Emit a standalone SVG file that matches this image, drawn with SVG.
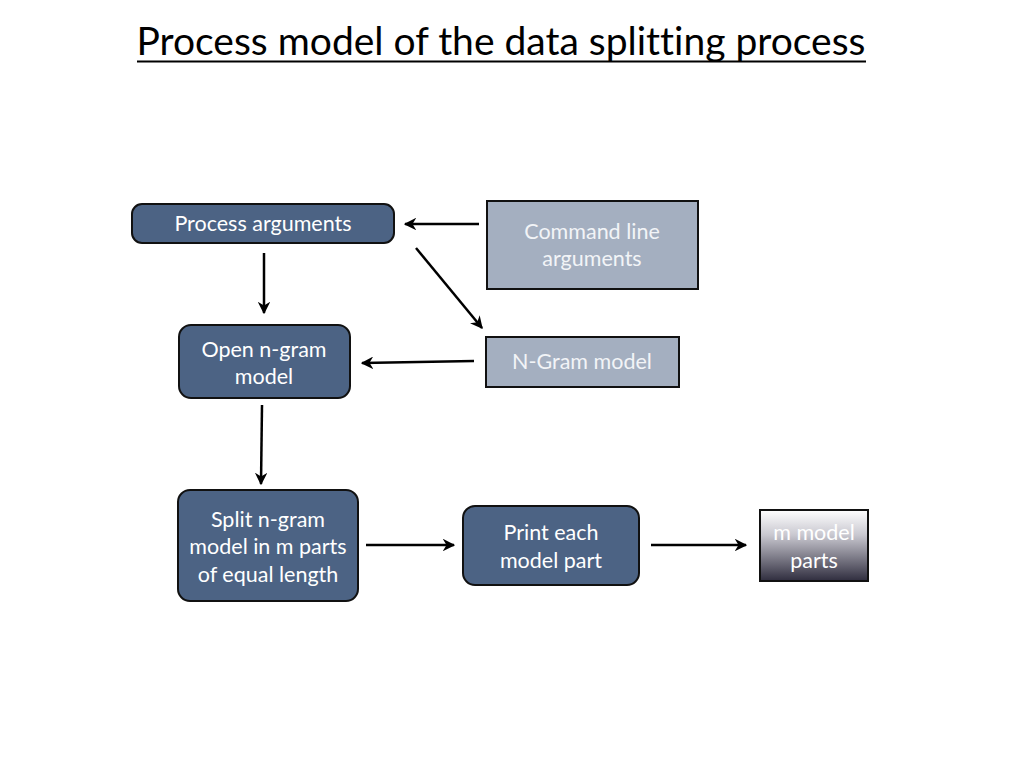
<svg xmlns="http://www.w3.org/2000/svg" width="1024" height="768" viewBox="0 0 1024 768">
<defs>
<style>
.dark{fill:#4c6384;stroke:#111;stroke-width:2}
.light{fill:#a4afc0;stroke:#111;stroke-width:2}
.t{font-family:"Lato","Open Sans","Liberation Sans",sans-serif;font-size:21.5px;fill:#fff;text-anchor:middle;font-variant-ligatures:none}
.tl{font-family:"Lato","Open Sans","Liberation Sans",sans-serif;font-size:21.5px;fill:#f2f4f7;text-anchor:middle;font-variant-ligatures:none}
.c{stroke:#000;stroke-width:2.5;fill:none;marker-end:url(#ah)}
</style>
<marker id="ah" viewBox="0 0 10 10" refX="9" refY="5" markerWidth="5" markerHeight="5" orient="auto" markerUnits="strokeWidth">
<path d="M0,0 L10,5 L0,10 L3,5 Z" fill="#000"/>
</marker>
<linearGradient id="g" x1="0" y1="0" x2="0" y2="1">
<stop offset="0" stop-color="#ffffff"/>
<stop offset="0.35" stop-color="#c9c8d0"/>
<stop offset="1" stop-color="#2f2d3e"/>
</linearGradient>
</defs>
<rect width="1024" height="768" fill="#fff"/>
<text x="501" y="55" font-family="Lato,'Open Sans','Liberation Sans',sans-serif" font-size="39" text-anchor="middle" fill="#000" style="font-variant-ligatures:none">Process model of the data splitting process</text>
<line x1="137" y1="61.5" x2="866" y2="61.5" stroke="#000" stroke-width="2"/>
<g id="connectors">
<line class="c" x1="479" y1="224" x2="405" y2="224"/>
<line class="c" x1="416" y1="248" x2="482" y2="328"/>
<line class="c" x1="264" y1="253" x2="264" y2="313"/>
<line class="c" x1="474" y1="361" x2="362" y2="363"/>
<line class="c" x1="262" y1="405" x2="261" y2="484"/>
<line class="c" x1="366" y1="545" x2="454" y2="545"/>
<line class="c" x1="651" y1="545" x2="746" y2="545"/>
</g>
<g id="process-arguments">
<rect class="dark" x="132" y="204" width="262" height="39" rx="10"/>
<text class="t" x="263" y="231">Process arguments</text>
</g>
<g id="command-line-arguments">
<rect class="light" x="487" y="201" width="211" height="88"/>
<text class="tl" x="592" y="239">Command line</text>
<text class="tl" x="592" y="266">arguments</text>
</g>
<g id="ngram-model">
<rect class="light" x="486" y="337" width="193" height="50"/>
<text class="tl" x="582" y="369">N-Gram model</text>
</g>
<g id="open-ngram-model">
<rect class="dark" x="179" y="325" width="171" height="73" rx="12"/>
<text class="t" x="264" y="357">Open n-gram</text>
<text class="t" x="264" y="384">model</text>
</g>
<g id="split-ngram-model">
<rect class="dark" x="178" y="490" width="180" height="111" rx="12"/>
<text class="t" x="268" y="527">Split n-gram</text>
<text class="t" x="268" y="554">model in m parts</text>
<text class="t" x="268" y="582">of equal length</text>
</g>
<g id="print-each-model-part">
<rect class="dark" x="463" y="506" width="176" height="79" rx="12"/>
<text class="t" x="551" y="540">Print each</text>
<text class="t" x="551" y="568">model part</text>
</g>
<g id="m-model-parts">
<rect x="760" y="510" width="108" height="71" fill="url(#g)" stroke="#111" stroke-width="2"/>
<text class="t" x="814" y="540">m model</text>
<text class="t" x="814" y="568">parts</text>
</g>
</svg>
